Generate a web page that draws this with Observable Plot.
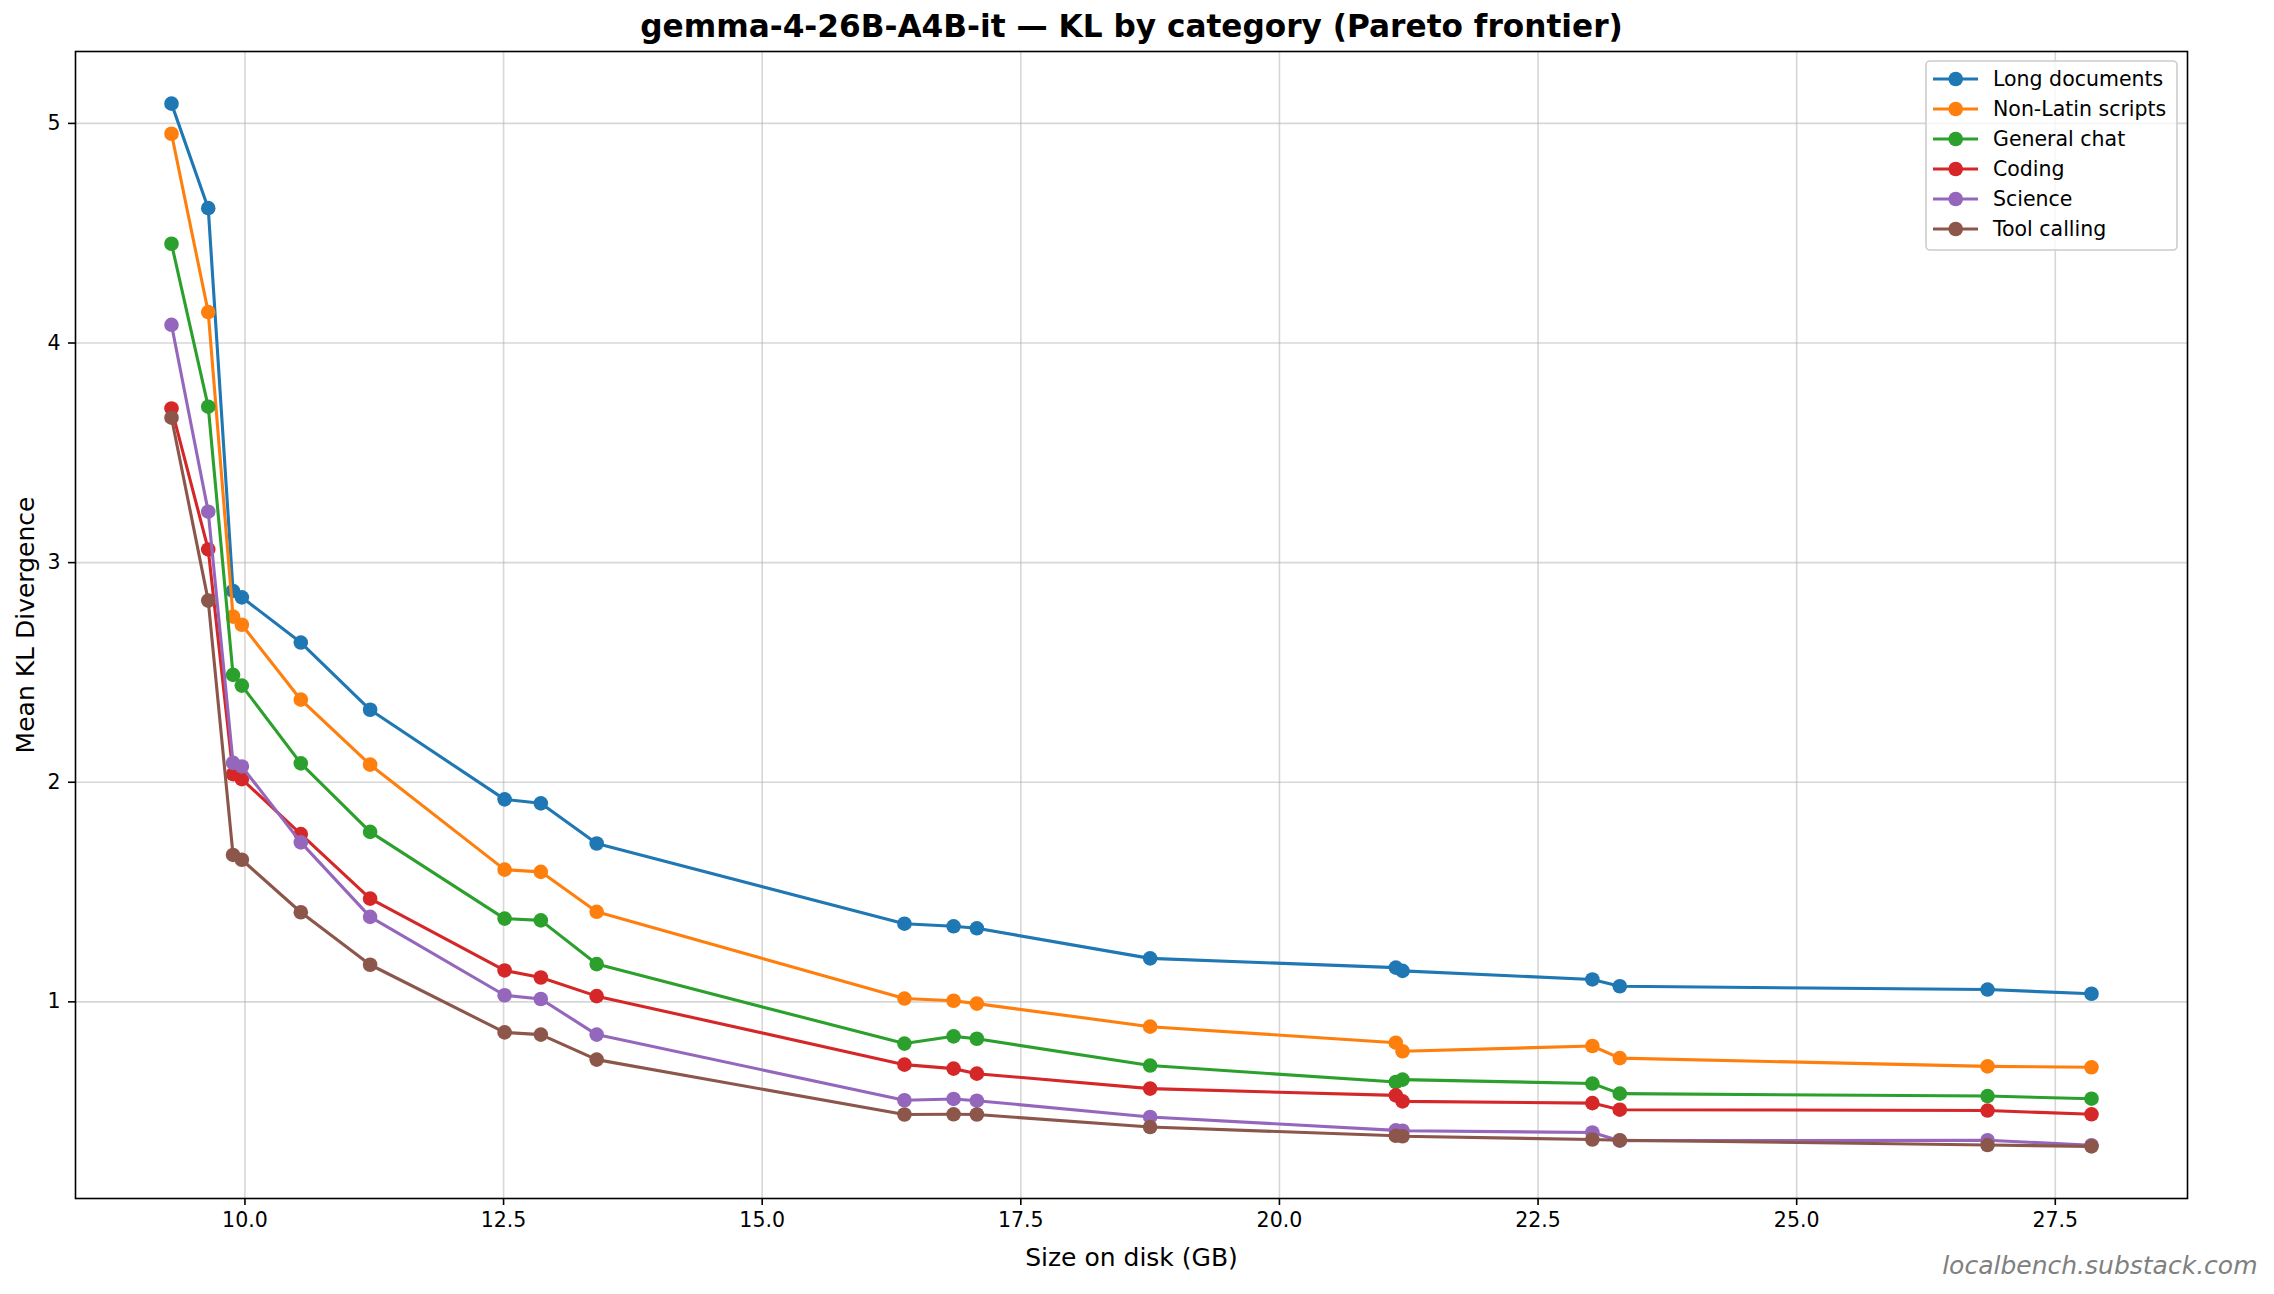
<!DOCTYPE html>
<html>
<head>
<meta charset="utf-8">
<script src="https://cdn.jsdelivr.net/npm/d3@7"></script>
<script src="https://cdn.jsdelivr.net/npm/@observablehq/plot@0.6"></script>
<style>
  html, body { margin: 0; padding: 0; background: white; }
  svg { display: block; }
</style>
</head>
<body>
<div id="chart"></div>
<script>
const titleText = "gemma-4-26B-A4B-it — KL by category (Pareto frontier)";
const xLabel = "Size on disk (GB)";
const yLabel = "Mean KL Divergence";
const watermark = "localbench.substack.com";

const categories = ["Long documents", "Non-Latin scripts", "General chat", "Coding", "Science", "Tool calling"];
const colors = ["#1f77b4", "#ff7f0e", "#2ca02c", "#d62728", "#9467bd", "#8c564b"];

const sizes = [9.29, 9.645, 9.885, 9.97, 10.54, 11.21, 12.51, 12.86, 13.40, 16.375, 16.85, 17.075, 18.75, 21.125, 21.19, 23.025, 23.29, 26.845, 27.85];

const longDocuments   = [5.09, 4.614, 2.871, 2.842, 2.636, 2.330, 1.922, 1.904, 1.721, 1.356, 1.344, 1.335, 1.198, 1.156, 1.141, 1.102, 1.071, 1.056, 1.037];
const nonLatinScripts = [4.953, 4.141, 2.754, 2.717, 2.376, 2.080, 1.602, 1.592, 1.410, 1.015, 1.005, 0.992, 0.887, 0.814, 0.775, 0.799, 0.744, 0.706, 0.702];
const generalChat     = [4.452, 3.710, 2.489, 2.440, 2.086, 1.774, 1.379, 1.371, 1.172, 0.810, 0.843, 0.832, 0.710, 0.635, 0.646, 0.628, 0.582, 0.571, 0.559];
const coding          = [3.702, 3.060, 2.037, 2.014, 1.764, 1.470, 1.143, 1.111, 1.026, 0.714, 0.696, 0.673, 0.605, 0.574, 0.547, 0.539, 0.509, 0.505, 0.488];
const science         = [4.083, 3.232, 2.088, 2.072, 1.726, 1.387, 1.030, 1.013, 0.851, 0.552, 0.558, 0.550, 0.476, 0.415, 0.413, 0.405, 0.368, 0.370, 0.347];
const toolCalling     = [3.660, 2.827, 1.669, 1.647, 1.408, 1.169, 0.861, 0.851, 0.737, 0.487, 0.488, 0.487, 0.430, 0.390, 0.388, 0.373, 0.370, 0.348, 0.342];

const seriesValues = [longDocuments, nonLatinScripts, generalChat, coding, science, toolCalling];

const xTicks = [10, 12.5, 15, 17.5, 20, 22.5, 25, 27.5];
const yTicks = [1, 2, 3, 4, 5];

// build long table
const table = [];
categories.forEach((c, i) => {
  seriesValues[i].forEach((v, j) => table.push({category: c, size: sizes[j], kl: v}));
});

function padded(extent) {
  const span = extent[1] - extent[0];
  return [extent[0] - 0.05 * span, extent[1] + 0.05 * span];
}
const xDomain = padded(d3.extent(table, d => d.size));
const yDomain = padded(d3.extent(table, d => d.kl));

const seriesMarks = [];
categories.forEach(c => {
  const rows = table.filter(d => d.category === c);
  seriesMarks.push(Plot.line(rows, {x: "size", y: "kl", stroke: "category", strokeWidth: 3.1}));
  seriesMarks.push(Plot.dot(rows, {x: "size", y: "kl", fill: "category", r: 7.3, stroke: "none"}));
});

const plot = Plot.plot({
  width: 2274,
  height: 1294,
  marginLeft: 75,
  marginRight: 87,
  marginTop: 51,
  marginBottom: 96,
  style: {fontFamily: "DejaVu Sans", fontSize: "20.5px", color: "black", background: "white", overflow: "visible"},
  x: {domain: xDomain},
  y: {domain: yDomain},
  color: {domain: categories, range: colors},
  marks: [
    Plot.gridX(xTicks, {stroke: "#b0b0b0", strokeOpacity: 0.5, strokeWidth: 1.6}),
    Plot.gridY(yTicks, {stroke: "#b0b0b0", strokeOpacity: 0.5, strokeWidth: 1.6}),
    ...seriesMarks,
    Plot.frame({stroke: "black", strokeWidth: 1.6}),
    Plot.axisX(xTicks, {tickSize: 7, tickPadding: 7, tickFormat: d => d.toFixed(1), label: null, strokeWidth: 1.6}),
    Plot.axisY(yTicks, {tickSize: 7, tickPadding: 8, tickFormat: d => String(d), label: null, strokeWidth: 1.6}),
    Plot.text([titleText], {text: d => d, frameAnchor: "top", lineAnchor: "bottom", dy: -15, fontSize: 31.2, fontWeight: "bold"}),
    Plot.text([xLabel], {text: d => d, frameAnchor: "bottom", lineAnchor: "bottom", dy: 67, fontSize: 25}),
    Plot.text([yLabel], {text: d => d, frameAnchor: "left", textAnchor: "middle", rotate: -90, dx: -42, lineAnchor: "bottom", fontSize: 25}),
    Plot.text([watermark], {text: d => d, frameAnchor: "bottom-right", textAnchor: "end", lineAnchor: "bottom", dx: 70, dy: 75, fontSize: 25, fontStyle: "italic", fill: "#808080"})
  ]
});

// legend (inside the plot, upper right)
const svg = d3.select(plot);
const lg = svg.append("g")
  .attr("font-family", "DejaVu Sans")
  .attr("font-size", "20.5px")
  .attr("text-anchor", "start");
lg.append("rect")
  .attr("x", 1926).attr("y", 61).attr("width", 251).attr("height", 189)
  .attr("rx", 4).attr("fill", "white").attr("fill-opacity", 0.8)
  .attr("stroke", "#cccccc").attr("stroke-width", 1.6);
categories.forEach((c, i) => {
  const yy = 79 + i * 30;
  lg.append("line").attr("x1", 1933).attr("x2", 1978).attr("y1", yy).attr("y2", yy)
    .attr("stroke", colors[i]).attr("stroke-width", 3.1);
  lg.append("circle").attr("cx", 1955.7).attr("cy", yy).attr("r", 7.3).attr("fill", colors[i]);
  lg.append("text").attr("x", 1993).attr("y", yy).attr("dy", "0.36em")
    .attr("text-anchor", "start").attr("fill", "black").text(c);
});

document.getElementById("chart").appendChild(plot);
</script>
</body>
</html>
